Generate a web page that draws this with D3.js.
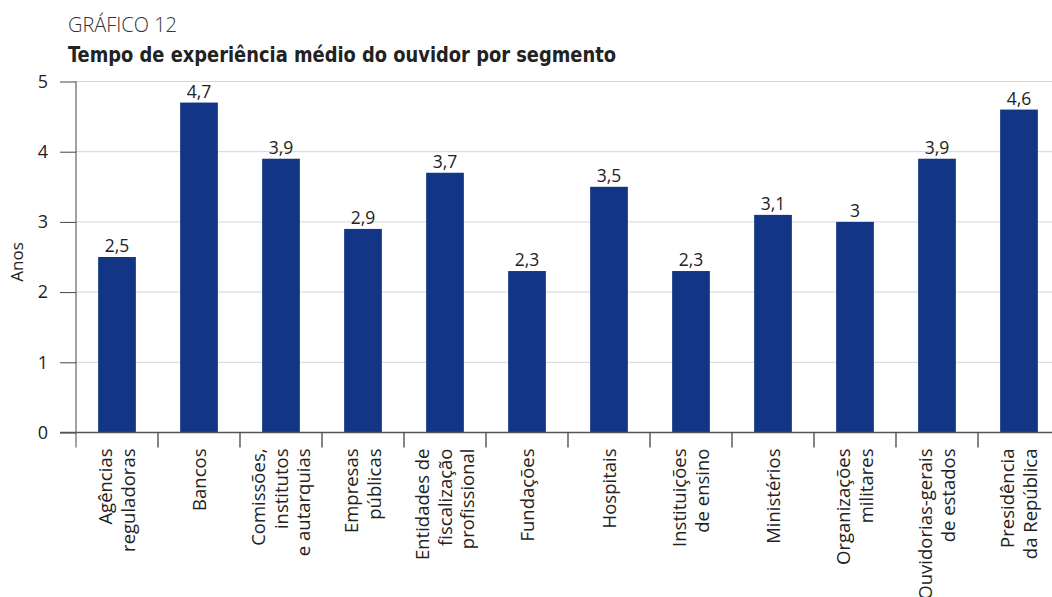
<!DOCTYPE html>
<html>
<head>
<meta charset="utf-8">
<script src="https://cdn.jsdelivr.net/npm/d3@7"></script>
<style>
  html, body { margin: 0; padding: 0; background: #fff; }
  svg { display: block; }
  text { font-family: "Open Sans", "DejaVu Sans", sans-serif; fill: #222; }
</style>
</head>
<body>
<svg id="chart" width="1052" height="597"></svg>
<script>
// Segment names (line breaks inside labels are marked with "\n")
const categories = [
  "Agências\nreguladoras",
  "Bancos",
  "Comissões,\ninstitutos\ne autarquias",
  "Empresas\npúblicas",
  "Entidades de\nfiscalização\nprofissional",
  "Fundações",
  "Hospitais",
  "Instituições\nde ensino",
  "Ministérios",
  "Organizações\nmilitares",
  "Ouvidorias-gerais\nde estados",
  "Presidência\nda República"
];
// Average experience of the ombudsman, in years
const values = [2.5, 4.7, 3.9, 2.9, 3.7, 2.3, 3.5, 2.3, 3.1, 3.0, 3.9, 4.6];
const yTicks = [0, 1, 2, 3, 4, 5];

const svg = d3.select("#chart");
const plotLeft = 76, plotRight = 1060, plotTop = 81.5, plotBottom = 432.5;

const x = d3.scaleBand().domain(categories).range([plotLeft, plotRight]).paddingInner(0.54).paddingOuter(0.27);
const y = d3.scaleLinear().domain([0, 5]).range([plotBottom, plotTop]);
const fmt = v => String(v).replace(".", ",");

// Titles
svg.append("text").attr("x", 68).attr("y", 32)
  .style("font-size", "21px").style("font-weight", 300).style("fill", "#333")
  .style("font-family", "'Open Sans', sans-serif")
  .attr("textLength", 109).attr("lengthAdjust", "spacingAndGlyphs")
  .text("GRÁFICO 12");
svg.append("text").attr("x", 68).attr("y", 62)
  .style("font-size", "22px").style("font-weight", 700)
  .style("font-family", "'DejaVu Sans Condensed', 'Liberation Sans Narrow', sans-serif")
  .attr("textLength", 548).attr("lengthAdjust", "spacingAndGlyphs")
  .text("Tempo de experiência médio do ouvidor por segmento");

// Gridlines
svg.append("g").selectAll("line").data(yTicks.filter(t => t > 0)).join("line")
  .attr("x1", plotLeft).attr("x2", 1052)
  .attr("y1", d => y(d)).attr("y2", d => y(d))
  .attr("stroke", "#d6d6d6").attr("stroke-width", 1);

// Bars
svg.append("g").selectAll("rect").data(values).join("rect")
  .attr("x", (d, i) => x(categories[i]))
  .attr("width", x.bandwidth())
  .attr("y", d => y(d))
  .attr("height", d => y(0) - y(d))
  .attr("fill", "#123685");

// Value labels
svg.append("g").selectAll("text").data(values).join("text")
  .attr("x", (d, i) => x(categories[i]) + x.bandwidth() / 2)
  .attr("y", d => y(d) - 5)
  .attr("text-anchor", "middle")
  .style("font-size", "17.5px")
  .text(d => fmt(d));

// Y axis
const yAxis = svg.append("g").attr("transform", `translate(${plotLeft},0)`)
  .call(d3.axisLeft(y).tickValues(yTicks).tickSize(16).tickPadding(12).tickFormat(d => d));
yAxis.select(".domain").attr("stroke", "#444").attr("d", `M0,${plotTop}V${plotBottom + 15}`);
yAxis.selectAll(".tick line").attr("stroke", "#444");
yAxis.selectAll(".tick text").style("font-size", "18px").style("font-family", "'Open Sans', sans-serif").attr("fill", "#222");

// Baseline
svg.append("line").attr("x1", 60).attr("x2", 1052).attr("y1", plotBottom).attr("y2", plotBottom)
  .attr("stroke", "#555").attr("stroke-width", 1.5);

// Category separator ticks
const step = x.step();
const seps = d3.range(1, categories.length + 1).map(i => plotLeft + i * step);
svg.append("g").selectAll("line").data(seps).join("line")
  .attr("x1", d => d).attr("x2", d => d)
  .attr("y1", plotBottom).attr("y2", plotBottom + 15)
  .attr("stroke", "#444").attr("stroke-width", 1.3);

// Category labels, rotated and centred on each band
const lineH = 22.5;
const labels = svg.append("g").selectAll("text").data(categories).join("text")
  .attr("transform", d => `translate(${x(d) + x.bandwidth() / 2},${plotBottom + 16}) rotate(-90)`)
  .attr("text-anchor", "end")
  .style("font-size", "18.5px");
labels.each(function(d) {
  const lines = d.split("\n");
  const n = lines.length;
  d3.select(this).selectAll("tspan").data(lines).join("tspan")
    .attr("x", 0)
    .attr("y", (l, i) => (i - (n - 1) / 2) * lineH + 6.5)
    .text(l => l);
});

// Y axis title
svg.append("text")
  .attr("transform", `translate(23,262) rotate(-90)`)
  .attr("text-anchor", "middle")
  .style("font-size", "17px")
  .text("Anos");
</script>
</body>
</html>
